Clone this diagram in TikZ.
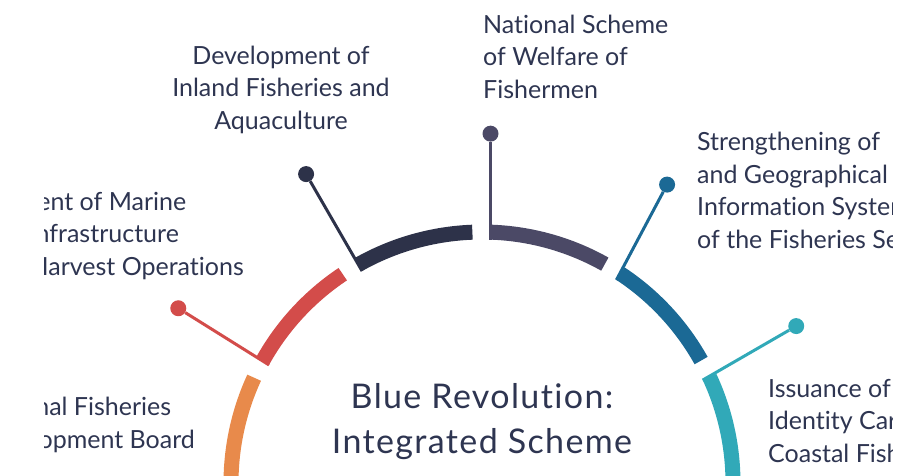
\documentclass[tikz,border=0pt]{standalone}
\usepackage{fontspec}
\setmainfont{Lato}[Ligatures=CommonOff]
\newfontfamily\headfont{Lato}[Ligatures=CommonOff,LetterSpace=4]

\definecolor{seaorange}{HTML}{E88A4B}
\definecolor{seared}{HTML}{D34C4A}
\definecolor{seanavy}{HTML}{2D3249}
\definecolor{seaslate}{HTML}{4B4966}
\definecolor{seablue}{HTML}{1B6995}
\definecolor{seateal}{HTML}{31A9B8}
\definecolor{ink}{HTML}{2E3551}

\begin{document}
\begin{tikzpicture}[x=1pt,y=1pt,
    arcseg/.style={line width=15pt},
    stalk/.style={line width=3pt},
    knob/.style={circle,inner sep=0pt,minimum size=16pt},
    blurb/.style={font=\fontsize{25}{32.5}\selectfont,text=ink,align=left,inner sep=0pt},
    title/.style={font=\headfont\fontsize{34}{45}\selectfont,text=ink,align=center,inner sep=0pt}]
  \useasboundingbox (0,0) rectangle (909,475);
  \clip (44,0) rectangle (892,475);
  \coordinate (hub) at (482,-8);

  % ring segments, each starts at its stalk
  \foreach \a/\c in {182.5/seaorange,151/seared,119.5/seanavy,88/seaslate,56.5/seablue,25/seateal}
    \draw[arcseg,\c] ([shift={(\a:251)}]hub) arc[start angle=\a, end angle=\a-27.3, radius=251];

  % stalks with their knobs
  \foreach \a/\s/\l/\c/\n in {151/148/107/seared/mar,119.5/120/112/seanavy/inl,88/90/106/seaslate/wel,
                              56.5/62/108/seablue/gis,25/30/108/seateal/idc} {
    \coordinate (\n-j) at ([shift={(\a:243.5)}]hub);
    \node[knob,fill=\c] (\n-k) at ([shift={(\s:\l)}]\n-j) {};
    \draw[stalk,\c] (\n-j) -- (\n-k);
  }

  % base = last line
  \node[title,anchor=base] (br) at (482,22) {Blue Revolution:\\Integrated Scheme};

  \node[blurb,anchor=base west] (mar) at (-75,200) {Development of Marine\\Fisheries Infrastructure\\and Post-Harvest Operations};
  \node[blurb,anchor=base,align=center] (inl) at (281,346) {Development of\\Inland Fisheries and\\Aquaculture};
  \node[blurb,anchor=base west] (wel) at (483,377) {National Scheme\\of Welfare of\\Fishermen};
  \node[blurb,anchor=base west] (gis) at (697,227) {Strengthening of\\and Geographical\\Information System\\of the Fisheries Sector};
  \node[blurb,anchor=base west] (idc) at (768,13) {Issuance of\\Identity Cards\\Coastal Fishermen};
  \node[blurb,anchor=base west] (nfdb) at (-25,27) {National Fisheries\\Development Board};
\end{tikzpicture}
\end{document}
